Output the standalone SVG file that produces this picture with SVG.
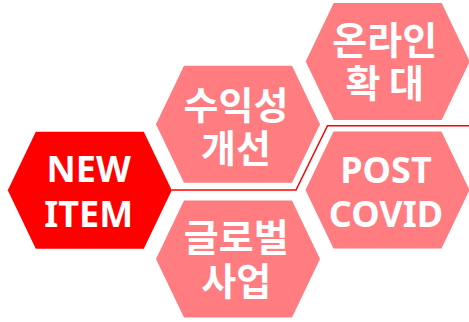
<svg xmlns="http://www.w3.org/2000/svg" width="469" height="322" viewBox="0 0 469 322">
<defs>
<style>
.hex{fill:#FF7C80;}
.hex.main{fill:#FF0000;}
.t{fill:#FFFFFF;font-family:"Noto Sans","Noto Sans CJK KR",sans-serif;font-weight:bold;font-size:36px;text-anchor:middle;}
.k{font-family:"Noto Sans CJK KR",sans-serif;font-size:38px;}
.link{fill:none;stroke:#FF0000;stroke-width:1.5;}
</style>
<path id="hx" d="M-82,0 L-54,-58.5 L54,-58.5 L82,0 L54,58.5 L-54,58.5 Z"/>
</defs>
<rect width="469" height="322" fill="#FFFFFF"/>
<g id="connectors">
<polyline class="link" points="172,190 296,190 327.5,125.7 469,125.7"/>
</g>
<g id="node-new-item">
<use href="#hx" class="hex main" x="89.8" y="190.3"/>
<text class="t" x="88.7" y="182.3">NEW</text>
<text class="t" x="88.7" y="227.3">ITEM</text>
</g>
<g id="node-profit">
<use href="#hx" class="hex" x="238" y="124.2"/>
<text class="t k" x="236" y="119.1">수익성</text>
<text class="t k" x="236" y="161.9">개선</text>
</g>
<g id="node-global">
<use href="#hx" class="hex" x="238" y="259"/>
<text class="t k" x="236.3" y="250.7">글로벌</text>
<text class="t k" x="236.3" y="295.4">사업</text>
</g>
<g id="node-online">
<use href="#hx" class="hex" x="387.7" y="61.5"/>
<text class="t k" x="384.8" y="54.4">온라인</text>
<text class="t k" x="384.8" y="96.9">확 대</text>
</g>
<g id="node-post-covid">
<use href="#hx" class="hex" x="387.5" y="190"/>
<text class="t" x="386" y="182.7">POST</text>
<text class="t" x="386" y="226.7">COVID</text>
</g>
</svg>
